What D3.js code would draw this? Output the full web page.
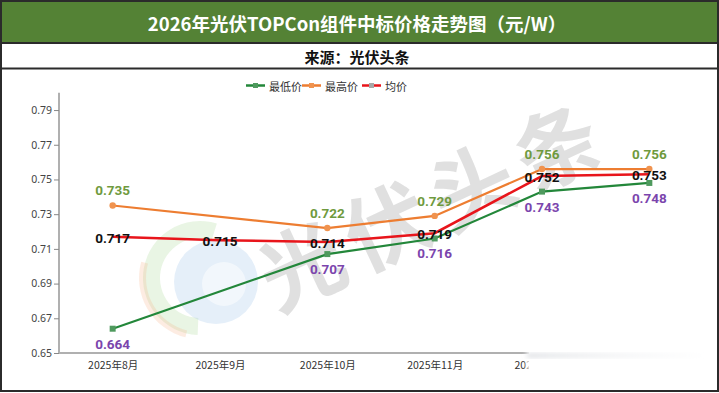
<!DOCTYPE html>
<html><head><meta charset="utf-8">
<script src="https://cdn.jsdelivr.net/npm/d3@7"></script>
<style>
html,body{margin:0;padding:0;background:#fff;}
svg{display:block;}
</style></head>
<body>
<svg id="chart" width="719" height="393"></svg>
<script>
const title = "2026年光伏TOPCon组件中标价格走势图（元/W）";
const subtitle = "来源：光伏头条";
const categories = ["2025年8月","2025年9月","2025年10月","2025年11月","2025年12月","2026年1月"];
const lowValues  = [0.664, null, 0.707, 0.716, 0.743, 0.748];
const highValues = [0.735, null, 0.722, 0.729, 0.756, 0.756];
const avgValues  = [0.717, 0.715, 0.714, 0.719, 0.752, 0.753];
const yTicks = [0.65,0.67,0.69,0.71,0.73,0.75,0.77,0.79];
const seriesNames = ["最低价","最高价","均价"];

const W = 719, H = 393;
const svg = d3.select("#chart");
const font = "'Noto Sans CJK SC','Noto Sans',sans-serif";

svg.append("rect").attr("x",0).attr("y",0).attr("width",W).attr("height",H).attr("fill","#fff");
// title bar
svg.append("rect").attr("x",0).attr("y",0).attr("width",W).attr("height",43).attr("fill","#548235");
svg.append("text").attr("x",357).attr("y",23).attr("text-anchor","middle").attr("dominant-baseline","central")
  .attr("font-family",font).attr("font-weight","bold").attr("font-size",18.5).attr("fill","#fff").text(title);
svg.append("text").attr("x",357).attr("y",56).attr("text-anchor","middle").attr("dominant-baseline","central")
  .attr("font-family",font).attr("font-weight","bold").attr("font-size",15).attr("fill","#111").text(subtitle);
svg.append("line").attr("x1",0).attr("x2",W).attr("y1",43).attr("y2",43).attr("stroke","#2b2b2b").attr("stroke-width",2);
svg.append("line").attr("x1",0).attr("x2",W).attr("y1",68.5).attr("y2",68.5).attr("stroke","#2b2b2b").attr("stroke-width",2);

// scales
const x = d3.scalePoint().domain(categories).range([59, 703]).padding(0.5);
const y = d3.scaleLinear().domain([0.65, 0.80]).range([353, 92.7]);

// watermark logo
const logo = svg.append("g").attr("transform","translate(200,278)");
logo.append("path").attr("d", d3.arc()({innerRadius:40,outerRadius:57,startAngle:-3.1,endAngle:0.3})).attr("fill","#8fcf7a").attr("opacity",0.2);
logo.append("path").attr("d", d3.arc()({innerRadius:54,outerRadius:61,startAngle:-2.9,endAngle:-1.3})).attr("fill","#f5a97a").attr("opacity",0.22);
logo.append("circle").attr("cx",16).attr("cy",4).attr("r",42).attr("fill","#8ab8e3").attr("opacity",0.22);
logo.append("circle").attr("cx",24).attr("cy",6).attr("r",22).attr("fill","#fff").attr("opacity",0.5);

// watermark text
svg.append("text").attr("transform","translate(432,200) rotate(-25)").attr("text-anchor","middle").attr("dominant-baseline","central")
  .attr("font-family",font).attr("font-weight","bold").attr("font-size",84).attr("fill","#9a9a9a").attr("opacity",0.3)
  .attr("letter-spacing",10).text("光伏头条");

// axes
const yAxis = svg.append("g").attr("transform","translate(59,0)")
  .call(d3.axisLeft(y).tickValues(yTicks).tickSize(5).tickFormat(d3.format(".2f")));
yAxis.select(".domain").attr("stroke","#b0b0b0").attr("stroke-width",2).attr("d","M0,92.7V353");
yAxis.selectAll(".tick line").attr("stroke","#888");
yAxis.selectAll(".tick text").attr("font-family","'Noto Sans',sans-serif").attr("font-size",10.5).attr("fill","#444").attr("x",-7);

const xAxis = svg.append("g").attr("transform","translate(0,353)")
  .call(d3.axisBottom(x).tickSize(0));
xAxis.select(".domain").attr("stroke","#b0b0b0").attr("stroke-width",2).attr("d","M59,0H703");
xAxis.selectAll(".tick text").attr("font-family",font).attr("font-size",10.5).attr("fill","#333").attr("dy","1.2em");

// series
const mk = vals => categories.map((c,i)=>({c, v:vals[i]})).filter(d=>d.v!=null);
const low = mk(lowValues), high = mk(highValues), avg = mk(avgValues);
const line = d3.line().x(d=>x(d.c)).y(d=>y(d.v));
const cHigh="#ed7d31", cLow="#23873a", cAvg="#e8151b";

svg.append("path").datum(high).attr("d",line).attr("fill","none").attr("stroke",cHigh).attr("stroke-width",2.2);
svg.append("path").datum(low).attr("d",line).attr("fill","none").attr("stroke",cLow).attr("stroke-width",2.2);
svg.append("path").datum(avg).attr("d",line).attr("fill","none").attr("stroke",cAvg).attr("stroke-width",2.6);

svg.selectAll(".mh").data(high).join("circle").attr("cx",d=>x(d.c)).attr("cy",d=>y(d.v)).attr("r",3.2).attr("fill","#f0934f");
svg.selectAll(".ml").data(low).join("rect").attr("x",d=>x(d.c)-3).attr("y",d=>y(d.v)-3).attr("width",6).attr("height",6).attr("fill","#4f9a5e");

// labels
const lf = "Roboto,'Noto Sans',sans-serif";
svg.selectAll(".lh").data(high).join("text").attr("x",d=>x(d.c)).attr("y",d=>y(d.v)-15)
  .attr("text-anchor","middle").attr("dominant-baseline","central").attr("font-family",lf).attr("font-weight","bold")
  .attr("font-size",13.5).attr("fill","#6f9a3e").text(d=>d.v.toFixed(3));
svg.selectAll(".ll").data(low).join("text").attr("x",d=>x(d.c)).attr("y",d=>y(d.v)+15)
  .attr("text-anchor","middle").attr("dominant-baseline","central").attr("font-family",lf).attr("font-weight","bold")
  .attr("font-size",13.5).attr("fill","#7b45ad").text(d=>d.v.toFixed(3));
svg.selectAll(".la").data(avg).join("text").attr("x",d=>x(d.c)).attr("y",d=>y(d.v)+1)
  .attr("text-anchor","middle").attr("dominant-baseline","central").attr("font-family",lf).attr("font-weight","bold")
  .attr("font-size",13.5).attr("fill","#111").text(d=>d.v.toFixed(3));

// legend
const legend = [{n:seriesNames[0],c:cLow,m:"#4f9a5e",x:246},{n:seriesNames[1],c:cHigh,m:"#f0934f",x:302},{n:seriesNames[2],c:cAvg,m:"#a8a8a8",x:362}];
const lg = svg.append("g");
legend.forEach(l=>{
  lg.append("line").attr("x1",l.x).attr("x2",l.x+19).attr("y1",85.5).attr("y2",85.5).attr("stroke",l.c).attr("stroke-width",2.5);
  lg.append("rect").attr("x",l.x+7).attr("y",83).attr("width",5).attr("height",5).attr("fill",l.m);
  lg.append("text").attr("x",l.x+23).attr("y",85.5).attr("dominant-baseline","central").attr("font-family",font)
    .attr("font-size",11).attr("fill","#333").text(l.n);
});

// smeared region at bottom right
const defs = svg.append("defs");
const f = defs.append("filter").attr("id","blur").attr("x","-20%").attr("y","-50%").attr("width","140%").attr("height","200%");
f.append("feGaussianBlur").attr("stdDeviation",2.5);
const g = defs.append("linearGradient").attr("id","smear");
g.append("stop").attr("offset","0%").attr("stop-color","#c8ccd2").attr("stop-opacity",0.9);
g.append("stop").attr("offset","100%").attr("stop-color","#e8eaee").attr("stop-opacity",0.1);
svg.append("rect").attr("x",527).attr("y",344).attr("width",182).attr("height",34).attr("fill","#fff").attr("filter","url(#blur)");
svg.append("rect").attr("x",529).attr("y",344).attr("width",178).attr("height",32).attr("fill","#fff");
svg.append("rect").attr("x",527).attr("y",354).attr("width",175).attr("height",3).attr("fill","url(#smear)").attr("filter","url(#blur)");

// outer border
svg.append("rect").attr("x",1).attr("y",1).attr("width",W-2).attr("height",H-3).attr("fill","none").attr("stroke","#2b2b2b").attr("stroke-width",2);
</script>
</body></html>
